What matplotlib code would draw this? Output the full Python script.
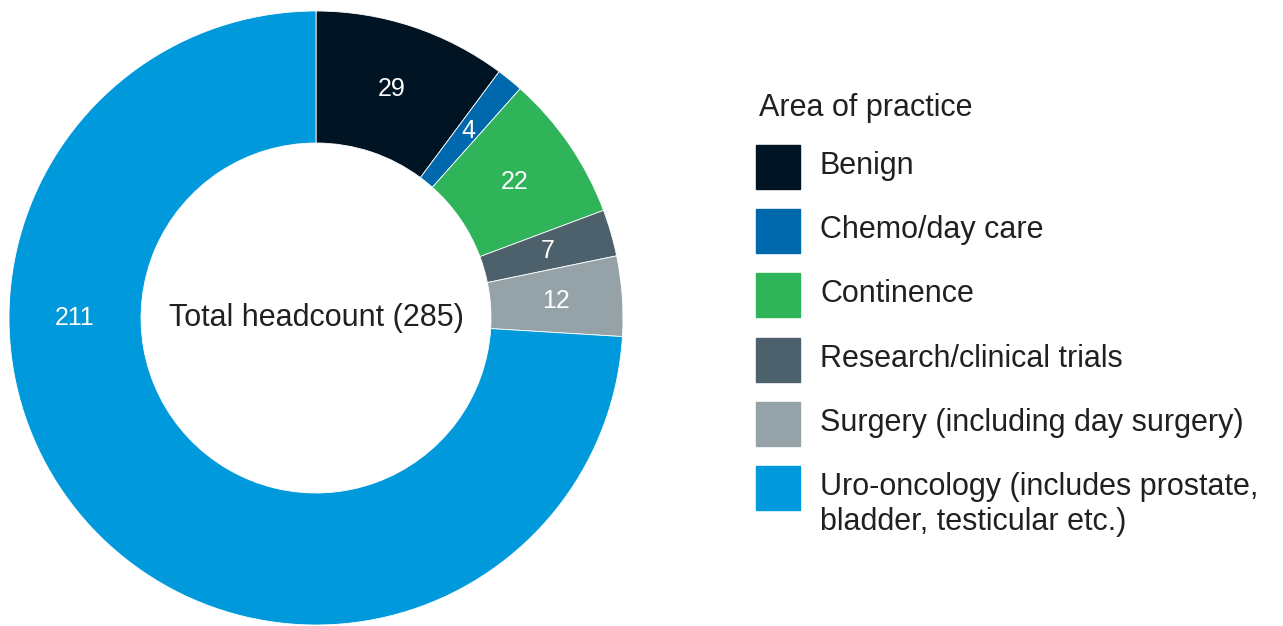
import matplotlib.pyplot as plt
from matplotlib.patches import Rectangle

plt.rcParams['font.family'] = ['Liberation Sans', 'DejaVu Sans']

categories = ['Benign', 'Chemo/day care', 'Continence', 'Research/clinical trials',
              'Surgery (including day surgery)',
              'Uro-oncology (includes prostate,\nbladder, testicular etc.)']
headcount = [29, 4, 22, 7, 12, 211]
colors = ['#001423', '#0068AC', '#2FB45A', '#4D616C', '#95A3A9', '#0099DB']
total = sum(headcount)

W, H = 1283, 626
fig = plt.figure(figsize=(W / 100, H / 100), dpi=100)
fig.patch.set_facecolor('white')

def fx(px):
    return px / W

def fy(py):
    return 1 - py / H

# donut
pct_r = 0.785
ax = fig.add_axes([fx(9), fy(625), 614 / W, 614 / H])
wedges, texts, autotexts = ax.pie(
    headcount, colors=colors, startangle=90, counterclock=False, radius=1,
    autopct=lambda p: '%d' % round(p * total / 100), pctdistance=pct_r,
    wedgeprops=dict(width=0.43, edgecolor='white', linewidth=0.6),
    textprops=dict(color='white', fontsize=18))
# the big slice gets its label on the left, as in the original
autotexts[-1].set_position((-pct_r, 0))
ax.set_aspect('equal')
ax.set_xlim(-1, 1)
ax.set_ylim(-1, 1)
ax.axis('off')
ax.text(0, 0, 'Total headcount (%d)' % total, ha='center', va='center',
        fontsize=22, color='#231F20')

# legend
fig.text(fx(759), fy(108), 'Area of practice', ha='left', va='center',
         fontsize=22, color='#231F20')
sq_top, step, sq = 145, 64.2, 44
for i, (lab, c) in enumerate(zip(categories, colors)):
    top = sq_top + i * step
    fig.patches.append(Rectangle((fx(756), fy(top + sq)), sq / W, sq / H,
                                 transform=fig.transFigure, color=c))
    fig.text(fx(820), fy(top + 6), lab, ha='left', va='top', fontsize=22,
             color='#231F20', linespacing=1.22)

fig.savefig('out.png', dpi=100)
